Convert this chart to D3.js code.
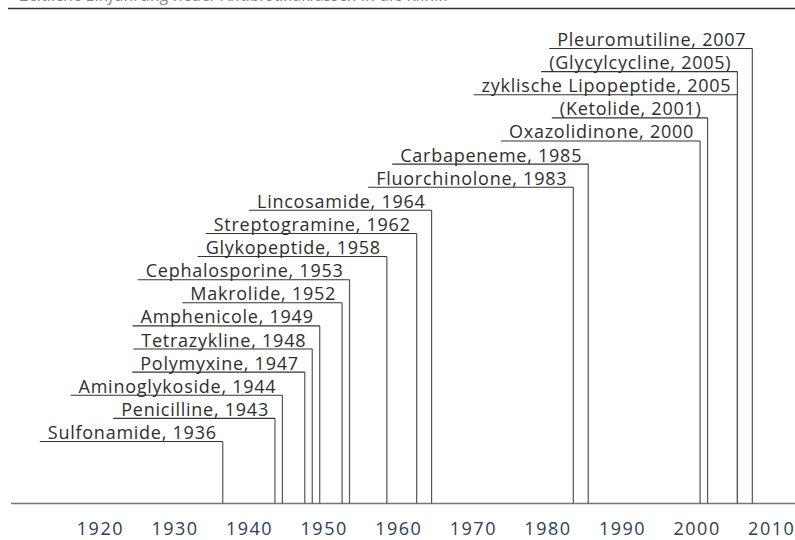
<!DOCTYPE html>
<html>
<head>
<meta charset="utf-8">
<script src="https://cdn.jsdelivr.net/npm/d3@7"></script>
<style>
  body { margin: 0; background: #fff; }
  svg { display: block; }
  .lbl { font-family: "Open Sans", "Lato", sans-serif; font-size: 18px; letter-spacing: 0.75px; fill: #2e2e2e; }
  .tick-lbl { font-family: "Open Sans", "Lato", sans-serif; font-size: 18px; letter-spacing: 1.5px; fill: #2d3d58; }
</style>
</head>
<body>
<div id="vis"></div>
<script>
// chart size
const W = 795, H = 540;

// antibiotic classes, bottom row first
const classes = ['Sulfonamide', 'Penicilline', 'Aminoglykoside', 'Polymyxine', 'Tetrazykline',
  'Amphenicole', 'Makrolide', 'Cephalosporine', 'Glykopeptide', 'Streptogramine', 'Lincosamide',
  'Fluorchinolone', 'Carbapeneme', 'Oxazolidinone', 'Ketolide', 'zyklische Lipopeptide',
  'Glycylcycline', 'Pleuromutiline']
const years = [1936, 1943, 1944, 1947, 1948, 1949, 1952, 1953, 1958, 1962, 1964,
  1983, 1985, 2000, 2001, 2005, 2005, 2007]
// entries shown in brackets
const bracketed = ['Ketolide', 'Glycylcycline']
const tickYears = [1920, 1930, 1940, 1950, 1960, 1970, 1980, 1990, 2000, 2010]

const rows = classes.map((c, i) => ({
  name: c,
  year: years[i],
  row: i,
  label: bracketed.includes(c) ? `(${c}, ${years[i]})` : `${c}, ${years[i]}`
}))

const baseY = 503.5

const xScale = d3.scaleLinear()
  .domain([1920, 2010])
  .range([103.4, 774.7])

const yScale = d3.scalePoint()
  .domain(d3.range(classes.length))
  .range([441.5, 48.5])

const svg = d3.select('#vis')
  .append('svg')
  .attr('width', W)
  .attr('height', H)

// caption above the rule, cut off at the top edge as in the original
svg.append('text')
  .attr('x', 20)
  .attr('y', 1)
  .style('font-family', '"Open Sans", sans-serif')
  .style('font-style', 'italic')
  .style('font-size', '17px')
  .style('fill', '#888')
  .text('Zeitliche Einführung neuer Antibiotikaklassen in die Klinik')

svg.append('line')
  .attr('x1', 8).attr('x2', W)
  .attr('y1', 8.5).attr('y2', 8.5)
  .attr('stroke', '#333')
  .attr('stroke-width', 1.3)

// baseline
svg.append('line')
  .attr('x1', 11).attr('x2', W)
  .attr('y1', baseY).attr('y2', baseY)
  .attr('stroke', '#777')
  .attr('stroke-width', 1.6)

// vertical lines from each label down to the baseline
svg.selectAll('.stem')
  .data(rows)
  .join('line')
  .attr('class', 'stem')
  .attr('x1', d => xScale(d.year)).attr('x2', d => xScale(d.year))
  .attr('y1', d => yScale(d.row)).attr('y2', baseY)
  .attr('stroke', '#555')
  .attr('stroke-width', 1.2)

// labels
const labels = svg.selectAll('.lbl')
  .data(rows)
  .join('text')
  .attr('class', 'lbl')
  .attr('x', d => xScale(d.year) - 6)
  .attr('y', d => yScale(d.row) - 2.5)
  .attr('text-anchor', 'end')
  .text(d => d.label)

// underline from a bit left of the text to the stem
labels.each(function(d) {
  const w = this.getComputedTextLength()
  const xr = xScale(d.year)
  svg.append('line')
    .attr('x1', xr - 6 - w - 8).attr('x2', xr)
    .attr('y1', yScale(d.row)).attr('y2', yScale(d.row))
    .attr('stroke', '#333')
    .attr('stroke-width', 1.1)
})

// year labels on the time axis
svg.selectAll('.tick-lbl')
  .data(tickYears)
  .join('text')
  .attr('class', 'tick-lbl')
  .attr('x', d => xScale(d) - 3)
  .attr('y', 534.5)
  .attr('text-anchor', 'middle')
  .text(d => d)
</script>
</body>
</html>
